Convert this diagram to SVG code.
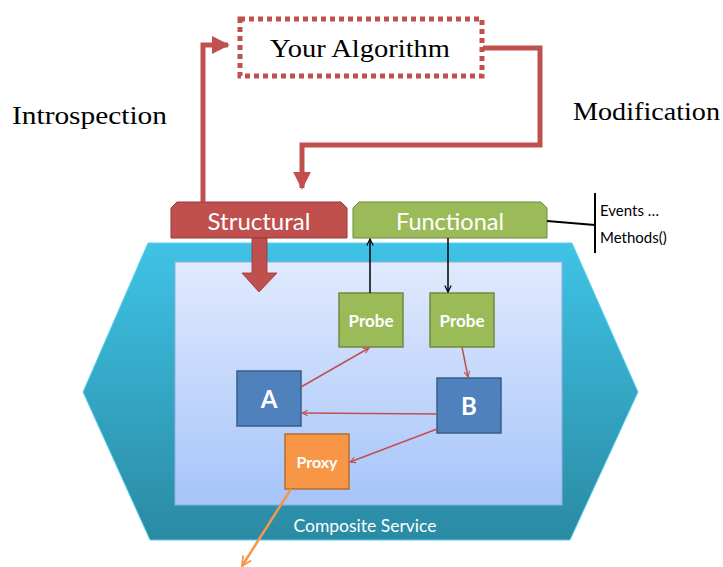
<svg xmlns="http://www.w3.org/2000/svg" width="723" height="567" viewBox="0 0 723 567">
<defs>
<linearGradient id="hexg" x1="0" y1="0" x2="0" y2="1">
<stop offset="0" stop-color="#3fc3e6"/>
<stop offset="1" stop-color="#2a8aa3"/>
</linearGradient>
<linearGradient id="inng" x1="0" y1="0" x2="0" y2="1">
<stop offset="0" stop-color="#e0eafd"/>
<stop offset="1" stop-color="#a6c4fa"/>
</linearGradient>
<marker id="ar" viewBox="0 0 10 10" refX="9" refY="5" markerWidth="7" markerHeight="7" orient="auto" markerUnits="userSpaceOnUse">
<path d="M1,1 L9,5 L1,9" fill="none" stroke="#c0504d" stroke-width="1.5"/>
</marker>
<marker id="ab" viewBox="0 0 10 10" refX="9" refY="5" markerWidth="8" markerHeight="8" orient="auto" markerUnits="userSpaceOnUse">
<path d="M1,1 L9,5 L1,9" fill="none" stroke="#000" stroke-width="1.5"/>
</marker>
<marker id="ao" viewBox="0 0 10 10" refX="9" refY="5" markerWidth="12" markerHeight="12" orient="auto" markerUnits="userSpaceOnUse">
<path d="M1,1 L9,5 L1,9" fill="none" stroke="#f79646" stroke-width="1.5"/>
</marker>
<marker id="abig" viewBox="0 0 10 10" refX="9" refY="5" markerWidth="18" markerHeight="18" orient="auto" markerUnits="userSpaceOnUse">
<path d="M0,0 L10,5 L0,10 Z" fill="#c0504d"/>
</marker>
</defs>
<style>
.lbl{font-family:"Liberation Serif",serif;fill:#000}
.gs{font-family:Lato,"Open Sans",sans-serif}
.w{fill:#fff;text-anchor:middle}
.blue{fill:#4f81bd;stroke:#385d8a;stroke-width:1.5}
.green{fill:#9bbb59;stroke:#71893f;stroke-width:1.5}
.orange{fill:#f79646;stroke:#b66d31;stroke-width:1.5}
.big{fill:none;stroke:#c0504d;stroke-width:5}
</style>

<g id="composite">
<polygon points="148,243 572,243 638,392 570,540 150,540 83,392" fill="url(#hexg)" stroke="#5dd0ee" stroke-width="1"/>
<rect x="175" y="262" width="387" height="243" fill="url(#inng)" stroke="#8fb0dc" stroke-width="1"/>
<text class="gs" x="365" y="532" fill="#fff" font-size="17.5" text-anchor="middle">Composite Service</text>
</g>

<g id="algorithm">
<rect x="240" y="19" width="242" height="57" fill="#fff" stroke="#c0504d" stroke-width="5" stroke-dasharray="5,4"/>
<text class="lbl" x="270" y="57" font-size="26" textLength="180" lengthAdjust="spacingAndGlyphs">Your Algorithm</text>
</g>

<g id="introspection-label"><text class="lbl" x="12" y="124" font-size="26" textLength="155" lengthAdjust="spacingAndGlyphs">Introspection</text></g>
<g id="modification-label"><text class="lbl" x="573" y="120" font-size="26" textLength="147" lengthAdjust="spacingAndGlyphs">Modification</text></g>

<g id="structural">
<path d="M177,202 L341,202 L347,208 L347,238 L171,238 L171,208 Z" fill="#c0504d" stroke="#943634" stroke-width="1"/>
<text class="gs w" x="259" y="230" font-size="24">Structural</text>
</g>

<g id="functional">
<path d="M359,202 L541,202 L547,208 L547,238 L353,238 L353,208 Z" fill="#9bbb59" stroke="#71893f" stroke-width="1"/>
<text class="gs w" x="450" y="230" font-size="23.5">Functional</text>
</g>

<g id="events">
<line x1="595" y1="193" x2="595" y2="253" stroke="#000" stroke-width="2"/>
<text class="gs" x="600" y="216" font-size="15">Events …</text>
<text class="gs" x="600" y="243" font-size="15">Methods()</text>
</g>

<g id="probe1"><rect class="green" x="339" y="293" width="64" height="54"/><text class="gs w" x="371" y="327" font-size="17" font-weight="bold">Probe</text></g>
<g id="probe2"><rect class="green" x="430" y="293" width="64" height="54"/><text class="gs w" x="462" y="327" font-size="17" font-weight="bold">Probe</text></g>
<g id="A"><rect class="blue" x="237" y="371" width="64" height="55"/><text class="gs w" x="269" y="408" font-size="24" font-weight="bold">A</text></g>
<g id="B"><rect class="blue" x="437" y="378" width="64" height="55"/><text class="gs w" x="469" y="415" font-size="24" font-weight="bold">B</text></g>
<g id="proxy"><rect class="orange" x="285" y="434" width="64" height="55"/><text class="gs w" x="317" y="468" font-size="16" font-weight="bold">Proxy</text></g>

<g id="connectors">
<path class="big" d="M203,202 L203,45 L228,45" marker-end="url(#abig)"/>
<path class="big" d="M483,48 L540,48 L540,145 L302,145 L302,188" marker-end="url(#abig)"/>
<path d="M252,238 L267,238 L267,273 L277,273 L259,292 L242,273 L252,273 Z" fill="#c0504d" stroke="#943634" stroke-width="0.8"/>
<line x1="547" y1="221" x2="595" y2="225" stroke="#000" stroke-width="2"/>
<line x1="370" y1="293" x2="370" y2="239" stroke="#000" stroke-width="1.5" marker-end="url(#ab)"/>
<line x1="448" y1="238" x2="448" y2="292" stroke="#000" stroke-width="1.5" marker-end="url(#ab)"/>
<line x1="301" y1="387" x2="369" y2="348" stroke="#c0504d" stroke-width="1.5" marker-end="url(#ar)"/>
<line x1="462" y1="347" x2="468" y2="377" stroke="#c0504d" stroke-width="1.5" marker-end="url(#ar)"/>
<line x1="437" y1="414" x2="302" y2="413" stroke="#c0504d" stroke-width="1.5" marker-end="url(#ar)"/>
<line x1="437" y1="429" x2="350" y2="462" stroke="#c0504d" stroke-width="1.5" marker-end="url(#ar)"/>
<line x1="291" y1="489" x2="242" y2="566" stroke="#f79646" stroke-width="2.5" marker-end="url(#ao)"/>
</g>
</svg>
